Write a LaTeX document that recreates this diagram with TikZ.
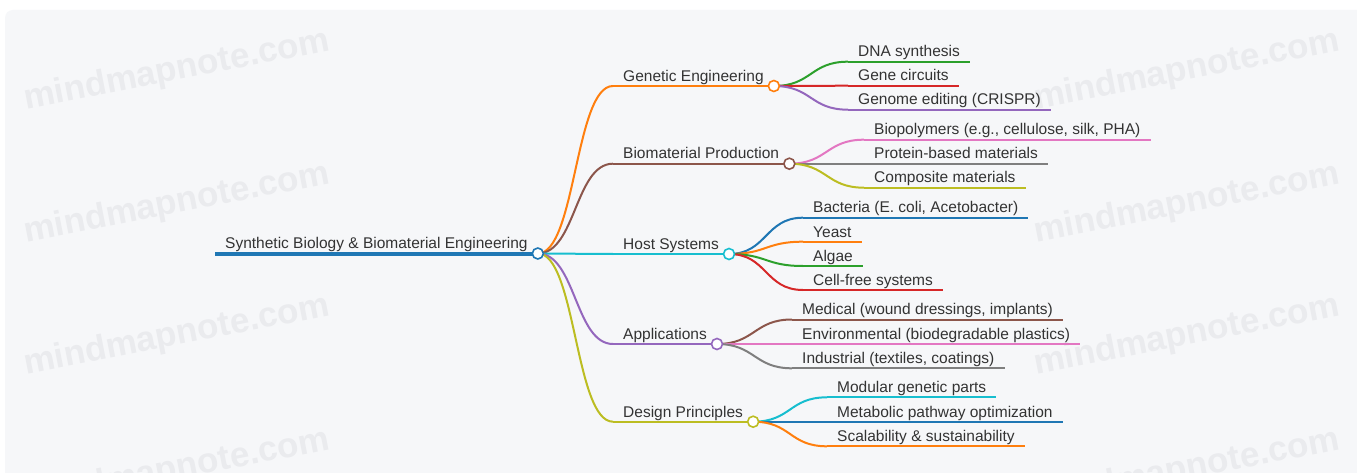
\documentclass[tikz,border=0pt]{standalone}
\usepackage{fontspec}
\setmainfont{Liberation Sans}
\usetikzlibrary{calc}

\definecolor{bgpanel}{RGB}{246,247,249}
\definecolor{wmark}{RGB}{234,235,238}
\definecolor{ink}{RGB}{51,51,51}
\definecolor{cBlue}{HTML}{1F77B4}
\definecolor{cOrange}{HTML}{FF7F0E}
\definecolor{cGreen}{HTML}{2CA02C}
\definecolor{cRed}{HTML}{D62728}
\definecolor{cPurple}{HTML}{9467BD}
\definecolor{cBrown}{HTML}{8C564B}
\definecolor{cPink}{HTML}{E377C2}
\definecolor{cGray}{HTML}{7F7F7F}
\definecolor{cOlive}{HTML}{BCBD22}
\definecolor{cCyan}{HTML}{17BECF}

\tikzset{
  topic/.style={anchor=south west, inner xsep=10pt, inner ysep=4.5pt,
    text depth=0pt, text=ink, font=\fontsize{15.5}{18}\selectfont},
  hub/.style={circle, draw, fill=white, line width=1.6pt,
    minimum size=11pt, inner sep=0pt},
  link/.style={line width=2pt},
  wm/.style={text=wmark, font=\fontsize{35}{40}\selectfont\bfseries, rotate=11},
}

% draw a branch: curve from a parent anchor to a child's underline, then the underline
\newcommand{\branch}[3]{%
  \draw[link, #1] (#2) .. controls +(38,0) and +(-38,0) .. (#3.south west);
  \draw[link, #1] (#3.south west) -- (#3.south east);
}

\begin{document}
\begin{tikzpicture}[x=1pt, y=-1pt]
\useasboundingbox (0,0) rectangle (1357,473);
\fill[white] (0,0) rectangle (1357,473);
\fill[bgpanel, rounded corners=8pt] (5,10) rectangle (1380,500);

% background watermark
\foreach \wy in {71,204,336,470} {
  \node[wm] at (177,\wy) {mindmapnote.com};
  \node[wm] at (1187,\wy) {mindmapnote.com};
}

% root
\node[topic] (root) at (215,253.5) {Synthetic Biology \& Biomaterial Engineering};

% main topics
\node[topic] (gen)  at (613,86)    {Genetic Engineering};
\node[topic] (bio)  at (613,163.7) {Biomaterial Production};
\node[topic] (host) at (613,254)   {Host Systems};
\node[topic] (app)  at (613,344)   {Applications};
\node[topic] (des)  at (613,421.7) {Design Principles};

% Genetic Engineering
\node[topic] (gen1) at (848,61.7)  {DNA synthesis};
\node[topic] (gen2) at (848,85.7)  {Gene circuits};
\node[topic] (gen3) at (848,109.7) {Genome editing (CRISPR)};

% Biomaterial Production
\node[topic] (bio1) at (864,139.7) {Biopolymers (e.g., cellulose, silk, PHA)};
\node[topic] (bio2) at (864,163.7) {Protein-based materials};
\node[topic] (bio3) at (864,187.7) {Composite materials};

% Host Systems
\node[topic] (host1) at (803,217.7) {Bacteria (E. coli, Acetobacter)};
\node[topic] (host2) at (803,241.7) {Yeast};
\node[topic] (host3) at (803,266)   {Algae};
\node[topic] (host4) at (803,290)   {Cell-free systems};

% Applications
\node[topic] (app1) at (792,319.5) {Medical (wound dressings, implants)};
\node[topic] (app2) at (792,344)   {Environmental (biodegradable plastics)};
\node[topic] (app3) at (792,368.3) {Industrial (textiles, coatings)};

% Design Principles
\node[topic] (des1) at (827,397.3) {Modular genetic parts};
\node[topic] (des2) at (827,421.7) {Metabolic pathway optimization};
\node[topic] (des3) at (827,446.3) {Scalability \& sustainability};

% second-level branches
\branch{cGreen}{gen.south east}{gen1}
\branch{cRed}{gen.south east}{gen2}
\branch{cPurple}{gen.south east}{gen3}

\branch{cPink}{bio.south east}{bio1}
\branch{cGray}{bio.south east}{bio2}
\branch{cOlive}{bio.south east}{bio3}

\branch{cBlue}{host.south east}{host1}
\branch{cOrange}{host.south east}{host2}
\branch{cGreen}{host.south east}{host3}
\branch{cRed}{host.south east}{host4}

\branch{cBrown}{app.south east}{app1}
\branch{cPink}{app.south east}{app2}
\branch{cGray}{app.south east}{app3}

\branch{cCyan}{des.south east}{des1}
\branch{cBlue}{des.south east}{des2}
\branch{cOrange}{des.south east}{des3}

% first-level branches
\branch{cOrange}{root.south east}{gen}
\branch{cBrown}{root.south east}{bio}
\branch{cCyan}{root.south east}{host}
\branch{cPurple}{root.south east}{app}
\branch{cOlive}{root.south east}{des}

% root underline
\draw[line width=4pt, cBlue] (root.south west) -- (root.south east);

% junction circles
\node[hub, draw=cBlue]   (rootHub) at (root.south east) {};
\node[hub, draw=cOrange] (genHub)  at (gen.south east)  {};
\node[hub, draw=cBrown]  (bioHub)  at (bio.south east)  {};
\node[hub, draw=cCyan]   (hostHub) at (host.south east) {};
\node[hub, draw=cPurple] (appHub)  at (app.south east)  {};
\node[hub, draw=cOlive]  (desHub)  at (des.south east)  {};
\end{tikzpicture}
\end{document}
